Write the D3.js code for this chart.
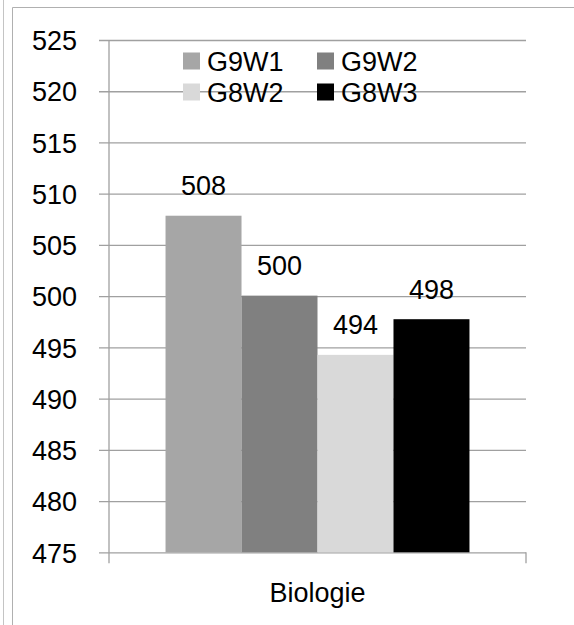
<!DOCTYPE html>
<html>
<head>
<meta charset="utf-8">
<script src="https://cdn.jsdelivr.net/npm/d3@7"></script>
<style>
  html, body { margin: 0; padding: 0; background: #fff; }
  svg { display: block; }
  text { font-family: "Liberation Sans", Arial, sans-serif; fill: #000; }
</style>
</head>
<body>
<svg id="chart" width="574" height="625"></svg>
<script>
const categories = ["Biologie"];
const seriesNames = ["G9W1", "G9W2", "G8W2", "G8W3"];
const seriesValues = [507.85, 500.05, 494.27, 497.75];
const seriesColors = ["#a6a6a6", "#808080", "#d9d9d9", "#000000"];
const yTickValues = [475, 480, 485, 490, 495, 500, 505, 510, 515, 520, 525];

const svg = d3.select("#chart");
const W = 574, H = 625;
const plot = { left: 109, right: 526, top: 40, bottom: 552.3 };
const fontSize = 27;
const fontFamily = '"Liberation Sans", Arial, sans-serif';
const gridColor = "#a0a0a0";

// frame lines
svg.append("line").attr("x1", 3.5).attr("x2", 3.5).attr("y1", 0).attr("y2", H)
  .attr("stroke", "#c4c4c4").attr("stroke-width", 1);
svg.append("line").attr("x1", 12.5).attr("x2", 12.5).attr("y1", 7.5).attr("y2", H)
  .attr("stroke", "#b0b0b0").attr("stroke-width", 1);
svg.append("line").attr("x1", 12.5).attr("x2", W).attr("y1", 7.5).attr("y2", 7.5)
  .attr("stroke", "#b0b0b0").attr("stroke-width", 1);

const y = d3.scaleLinear().domain([475, 525]).range([plot.bottom, plot.top]);
const x0 = d3.scaleBand().domain(categories).range([plot.left, plot.right])
  .paddingInner(0).paddingOuter(0.186);
const x1 = d3.scaleBand().domain(seriesNames).range([0, x0.bandwidth()]).padding(0);

// y axis with gridlines
const tickLen = 10;
const yAxis = d3.axisLeft(y).tickValues(yTickValues)
  .tickSizeInner(-(plot.right - plot.left + tickLen)).tickSizeOuter(0)
  .tickPadding(22).tickFormat(d3.format("d"));
const gy = svg.append("g").attr("transform", `translate(${plot.left - tickLen},0)`).call(yAxis);
gy.select(".domain").remove();
gy.selectAll(".tick line").attr("stroke", gridColor).attr("stroke-width", 1.3);
gy.selectAll(".tick text").style("font-family", fontFamily)
  .style("font-size", fontSize + "px").attr("fill", "#000").attr("dy", "0.36em");

// vertical value axis line
svg.append("line").attr("x1", plot.left).attr("x2", plot.left)
  .attr("y1", y(525)).attr("y2", plot.bottom + 11)
  .attr("stroke", gridColor).attr("stroke-width", 1.3);
// category axis end tick
svg.append("line").attr("x1", plot.right).attr("x2", plot.right)
  .attr("y1", plot.bottom).attr("y2", plot.bottom + 11)
  .attr("stroke", gridColor).attr("stroke-width", 1.3);

// bars
const data = seriesNames.map((s, i) => ({ cat: categories[0], name: s, value: seriesValues[i], color: seriesColors[i] }));
const g = svg.append("g");
g.selectAll("rect").data(data).enter().append("rect")
  .attr("x", d => x0(d.cat) + x1(d.name))
  .attr("width", x1.bandwidth())
  .attr("y", d => y(d.value))
  .attr("height", d => y(475) - y(d.value))
  .attr("fill", d => d.color);

// value labels
g.selectAll("text.lbl").data(data).enter().append("text").attr("class", "lbl")
  .attr("x", d => x0(d.cat) + x1(d.name) + x1.bandwidth() / 2)
  .attr("y", d => y(d.value) - 20.5)
  .attr("text-anchor", "middle")
  .style("font-size", fontSize + "px")
  .text(d => d3.format(".0f")(d.value));

// category label
svg.selectAll("text.cat").data(categories).enter().append("text").attr("class", "cat")
  .attr("x", d => x0(d) + x0.bandwidth() / 2)
  .attr("y", 601.5)
  .attr("text-anchor", "middle")
  .style("font-size", fontSize + "px")
  .text(d => d);

// legend
const legCols = [183, 317];
const legRows = [61, 92];
const leg = svg.append("g");
data.forEach((d, i) => {
  const cx = legCols[i % 2], cy = legRows[Math.floor(i / 2)];
  leg.append("rect").attr("x", cx).attr("y", cy - 8.5).attr("width", 17).attr("height", 17).attr("fill", d.color);
  leg.append("text").attr("x", cx + 24).attr("y", cy).attr("dy", "0.36em")
    .style("font-size", fontSize + "px").text(d.name);
});
</script>
</body>
</html>
